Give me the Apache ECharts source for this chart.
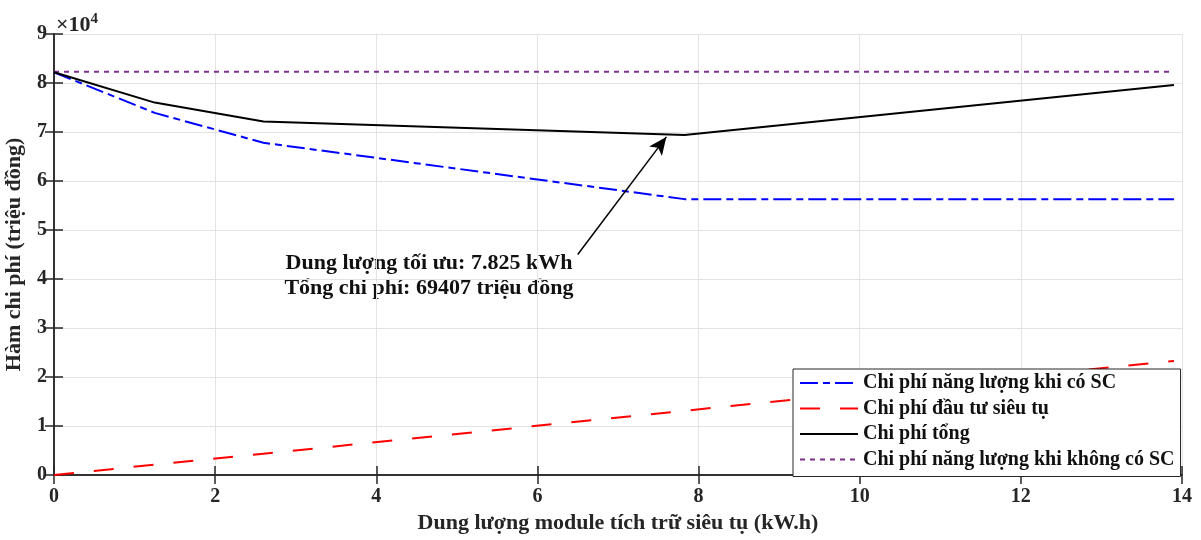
<!DOCTYPE html>
<html>
<head>
<meta charset="utf-8">
<script src="https://cdn.jsdelivr.net/npm/echarts@6/dist/echarts.min.js"></script>
<style>
html, body { margin: 0; padding: 0; background: #fff; }
#main { width: 1201px; height: 540px; }
</style>
</head>
<body>
<div id="main"></div>
<script>
// dung luong (kWh) va chi phi (trieu dong)
var capacity = [0, 1.25, 2.6, 7.825, 13.9];
var costWithSC = [82200, 73900, 67800, 56300, 56300];
var costInvest = [0, 2100, 4350, 13107, 23280];
var costTotal = [82200, 76000, 72150, 69407, 79580];
var costNoSC = [82300, 82300, 82300, 82300, 82300];

var names = ['Chi phí năng lượng khi có SC', 'Chi phí đầu tư siêu tụ', 'Chi phí tổng', 'Chi phí năng lượng khi không có SC'];

function pairs(ys) {
	var arr = [];
	for (var i = 0; i < capacity.length; i++) {
		arr.push([capacity[i], ys[i]]);
	}
	return arr;
}

var font = '"Liberation Serif", "DejaVu Serif", serif';
var myChart = echarts.init(document.getElementById('main'));

var gridLine = { show: true, lineStyle: { color: '#e3e3e3', width: 1 } };
var axisLine = { show: true, lineStyle: { color: '#262626', width: 1.5 } };
var tick = { show: true, inside: true, length: 9, lineStyle: { color: '#262626', width: 1.5 } };

option = {
	backgroundColor: '#fff',
	animation: false,
	grid: { left: 54, right: 19, top: 34, bottom: 65, containLabel: false, outerBoundsMode: 'none' },
	xAxis: [{
		type: 'value', min: 0, max: 14, interval: 2,
		name: 'Dung lượng module tích trữ siêu tụ (kW.h)',
		nameLocation: 'middle', nameGap: 37,
		nameTextStyle: { fontFamily: font, fontWeight: 'bold', fontSize: 22, color: '#262626' },
		axisLine: axisLine, axisTick: tick, splitLine: gridLine,
		axisLabel: { fontFamily: font, fontWeight: 'bold', fontSize: 20, color: '#262626', margin: 12 }
	}, {
		type: 'value', min: 0, max: 14, interval: 2, position: 'top',
		axisLine: axisLine, axisTick: tick, splitLine: { show: false }, axisLabel: { show: false }
	}],
	yAxis: [{
		type: 'value', min: 0, max: 90000, interval: 10000,
		name: 'Hàm chi phí (triệu đồng)',
		nameLocation: 'middle', nameGap: 29, nameRotate: 90,
		nameTextStyle: { fontFamily: font, fontWeight: 'bold', fontSize: 22, color: '#262626' },
		axisLine: axisLine, axisTick: tick, splitLine: gridLine,
		axisLabel: {
			fontFamily: font, fontWeight: 'bold', fontSize: 20, color: '#262626', margin: 7,
			formatter: function (v) { return v / 10000; }
		}
	}, {
		type: 'value', min: 0, max: 90000, interval: 10000, position: 'right',
		axisLine: axisLine, axisTick: tick, splitLine: { show: false }, axisLabel: { show: false }
	}],
	legend: {
		orient: 'vertical', left: 793, top: 369,
		itemWidth: 58, itemHeight: 14, itemGap: 5.5,
		padding: [4, 6, 7, 6],
		backgroundColor: '#fff', borderColor: '#262626', borderWidth: 1,
		itemStyle: { opacity: 0 },
		textStyle: { fontFamily: font, fontWeight: 'bold', fontSize: 20, color: '#111', width: 314 },
		data: names
	},
	graphic: [{
		type: 'text', left: 56, top: 12,
		style: {
			text: '×10{s|4}', fontFamily: font, fontWeight: 'bold', fontSize: 22, fill: '#262626',
			rich: { s: { fontSize: 15, fontWeight: 'bold', verticalAlign: 'top', padding: [0, 0, 12, 0], fontFamily: font, fill: '#262626' } }
		}
	}, {
		type: 'text', x: 429, y: 251,
		style: {
			text: 'Dung lượng tối ưu: 7.825 kWh\nTổng chi phí: 69407 triệu đồng',
			fontFamily: font, fontWeight: 'bold', fontSize: 22, fill: '#111',
			textAlign: 'center', lineHeight: 25
		}
	}],
	series: [{
		name: names[0], type: 'line', data: pairs(costWithSC), showSymbol: false, symbol: 'none',
		lineStyle: { color: '#0000ff', width: 2, type: [18, 5, 7, 5] }, itemStyle: { color: '#0000ff' }, z: 3
	}, {
		name: names[1], type: 'line', data: pairs(costInvest), showSymbol: false, symbol: 'none',
		lineStyle: { color: '#ff0000', width: 2, type: [20, 20] }, itemStyle: { color: '#ff0000' }, z: 3
	}, {
		name: names[2], type: 'line', data: pairs(costTotal), showSymbol: false, symbol: 'none',
		lineStyle: { color: '#000', width: 2 }, itemStyle: { color: '#000' }, z: 4,
		markLine: {
			silent: true, symbol: ['none', 'arrow'], symbolSize: [12, 18],
			label: { show: false },
			lineStyle: { color: '#000', width: 1.5, type: 'solid' },
			data: [[{ coord: [6.5, 45000] }, { coord: [7.6, 69000] }]]
		}
	}, {
		name: names[3], type: 'line', data: pairs(costNoSC), showSymbol: false, symbol: 'none',
		lineStyle: { color: '#7e2f8e', width: 2, type: [5, 5] }, itemStyle: { color: '#7e2f8e' }, z: 3
	}]
};

myChart.setOption(option);
</script>
</body>
</html>
